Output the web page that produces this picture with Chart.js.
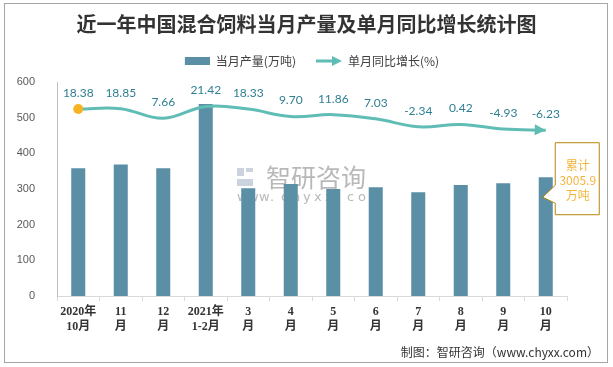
<!DOCTYPE html>
<html>
<head>
<meta charset="utf-8">
<script src="https://cdn.jsdelivr.net/npm/chart.js@4"></script>
<style>
    html, body { margin: 0; padding: 0; background: #fff; }
    #wrap { width: 613px; height: 367px; position: relative; }
</style>
</head>
<body>
<div id="wrap"><canvas id="mixChart" width="613" height="367"></canvas></div>
<script>
// chart data
var monthLabels = [['2020年', '10月'], ['11', '月'], ['12', '月'], ['2021年', '1-2月'], ['3', '月'], ['4', '月'],
    ['5', '月'], ['6', '月'], ['7', '月'], ['8', '月'], ['9', '月'], ['10', '月']];
var outputValues = [358, 369, 358, 538, 302, 314, 300, 305, 291, 311, 316, 333];
var growthValues = [18.38, 18.85, 7.66, 21.42, 18.33, 9.70, 11.86, 7.03, -2.34, 0.42, -4.93, -6.23];
var growthText = ['18.38', '18.85', '7.66', '21.42', '18.33', '9.70', '11.86', '7.03', '-2.34', '0.42', '-4.93', '-6.23'];
var totalNote = ['累计', '3005.9', '万吨'];

var barColor = '#5b8fa5';
var lineColor = '#5fbdb5';

// legend symbols, drawn right-aligned in a 36px wide box
function makeSwatch() {
    var c = document.createElement('canvas');
    c.width = 36; c.height = 8;
    var g = c.getContext('2d');
    g.fillStyle = barColor;
    g.fillRect(11, 0, 25, 8);
    return c;
}

function makeArrow() {
    var c = document.createElement('canvas');
    c.width = 36; c.height = 12;
    var g = c.getContext('2d');
    g.strokeStyle = lineColor;
    g.lineWidth = 3;
    g.beginPath(); g.moveTo(10, 6); g.lineTo(27, 6); g.stroke();
    g.fillStyle = lineColor;
    g.beginPath(); g.moveTo(36, 6); g.lineTo(26, 1); g.lineTo(26, 11); g.closePath(); g.fill();
    return c;
}

var swatchImg = makeSwatch();
var arrowImg = makeArrow();

var extrasPlugin = {
    id: 'extras',
    beforeDatasetsDraw: function (chart) {
        var ctx = chart.ctx;
        ctx.save();
        // watermark
        ctx.fillStyle = 'rgba(190,200,215,0.8)';
        ctx.fillRect(237, 168, 7, 8);
        ctx.fillRect(246, 168, 7, 4);
        ctx.fillRect(237, 179, 16, 7);
        ctx.fillStyle = 'rgba(160,160,160,0.75)';
        ctx.font = '25px "Noto Sans CJK SC"';
        ctx.textBaseline = 'middle';
        ctx.textAlign = 'left';
        ctx.fillText('智研咨询', 266, 177);
        ctx.font = '13px "DejaVu Sans"';
        var url = 'www.chyxx.com';
        for (var i = 0; i < url.length; i++) {
            ctx.fillText(url[i], 237 + i * 11, 198);
        }
        ctx.restore();
    },
    afterDatasetsDraw: function (chart) {
        var ctx = chart.ctx;
        var lineMeta = chart.getDatasetMeta(1);
        var barMeta = chart.getDatasetMeta(0);
        var pts = lineMeta.data;
        ctx.save();

        // arrow head at the end of the line
        var last = pts[pts.length - 1];
        var prev = pts[pts.length - 2];
        var cp = last.cp1x !== undefined ? { x: last.cp1x, y: last.cp1y } : prev;
        var ang = Math.atan2(last.y - cp.y, last.x - cp.x);
        ctx.fillStyle = lineColor;
        ctx.translate(last.x, last.y);
        ctx.rotate(ang);
        ctx.beginPath();
        ctx.moveTo(0, 0);
        ctx.lineTo(-11, -5.5);
        ctx.lineTo(-11, 5.5);
        ctx.closePath();
        ctx.fill();
        ctx.setTransform(1, 0, 0, 1, 0, 0);

        // value labels
        ctx.font = '12px Lato';
        ctx.fillStyle = '#2f7f92';
        ctx.textAlign = 'center';
        ctx.textBaseline = 'middle';
        for (var i = 0; i < pts.length; i++) {
            ctx.fillText(growthText[i], pts[i].x, pts[i].y - 16);
        }

        // callout next to the last bar
        var bar = barMeta.data[barMeta.data.length - 1];
        var left = bar.x + 9, top = bar.y - 35, w = 44, h = 72;
        ctx.fillStyle = '#fff';
        ctx.strokeStyle = '#b8860b';
        ctx.lineWidth = 1;
        ctx.beginPath();
        ctx.moveTo(left + 0.5, top + 0.5);
        ctx.lineTo(left + w + 0.5, top + 0.5);
        ctx.lineTo(left + w + 0.5, top + h + 0.5);
        ctx.lineTo(left + 0.5, top + h + 0.5);
        ctx.lineTo(left + 0.5, bar.y + 26);
        ctx.lineTo(bar.x - 3, bar.y + 20);
        ctx.lineTo(left + 0.5, bar.y + 8);
        ctx.closePath();
        ctx.fill();
        ctx.stroke();
        ctx.fillStyle = '#f3b43c';
        ctx.font = '12px "Noto Sans CJK SC"';
        for (var j = 0; j < totalNote.length; j++) {
            ctx.fillText(totalNote[j], left + w / 2 + 1, top + 23 + j * 15);
        }
        ctx.restore();
    },
    afterDraw: function (chart) {
        var ctx = chart.ctx;
        ctx.save();
        ctx.strokeStyle = '#a6a6a6';
        ctx.lineWidth = 1;
        ctx.strokeRect(4.5, 3.5, 603, 359);
        ctx.fillStyle = '#333';
        ctx.font = '12px "Noto Sans CJK SC"';
        ctx.textAlign = 'right';
        ctx.textBaseline = 'middle';
        ctx.fillText('制图：智研咨询（www.chyxx.com）', 599, 352);
        ctx.restore();
    }
};

var ctx = document.getElementById('mixChart').getContext('2d');

new Chart(ctx, {
    type: 'bar',
    data: {
        labels: monthLabels,
        datasets: [
            {
                label: '当月产量(万吨)',
                data: outputValues,
                backgroundColor: barColor,
                barPercentage: 0.33,
                categoryPercentage: 1,
                yAxisID: 'y',
                order: 2
            },
            {
                type: 'line',
                label: '单月同比增长(%)',
                data: growthValues,
                borderColor: lineColor,
                borderWidth: 3,
                tension: 0.4,
                pointRadius: function (c) { return c.dataIndex === 0 ? 5 : 0; },
                pointBackgroundColor: '#f5b324',
                pointBorderWidth: 0,
                yAxisID: 'y2',
                order: 1
            }
        ]
    },
    options: {
        responsive: false,
        animation: false,
        layout: {
            padding: { left: 0, right: 0, top: 0, bottom: 0 }
        },
        plugins: {
            title: {
                display: true,
                text: '近一年中国混合饲料当月产量及单月同比增长统计图',
                color: '#333',
                font: { family: '"Noto Sans CJK SC"', size: 20, weight: 'bold' },
                padding: { top: 12, bottom: 9 }
            },
            legend: {
                display: true,
                position: 'top',
                labels: {
                    usePointStyle: true,
                    pointStyleWidth: 36,
                    boxHeight: 12,
                    padding: 10,
                    color: '#404040',
                    font: { family: '"Noto Sans CJK SC"', size: 12 },
                    generateLabels: function (chart) {
                        return [
                            { text: '当月产量(万吨)', pointStyle: swatchImg, datasetIndex: 0, fillStyle: barColor, strokeStyle: barColor, lineWidth: 0, fontColor: '#404040' },
                            { text: '单月同比增长(%)', pointStyle: arrowImg, datasetIndex: 1, fillStyle: lineColor, strokeStyle: lineColor, lineWidth: 0, fontColor: '#404040' }
                        ];
                    }
                }
            },
            tooltip: { enabled: false }
        },
        scales: {
            x: {
                offset: true,
                grid: {
                    display: true,
                    drawOnChartArea: false,
                    offset: true,
                    tickLength: 5,
                    color: '#d9d9d9'
                },
                border: { color: '#d9d9d9' },
                ticks: {
                    color: '#333',
                    padding: 3,
                    maxRotation: 0,
                    autoSkip: false,
                    font: { family: '"Liberation Serif", "Noto Sans CJK SC"', size: 12, weight: 'bold', lineHeight: 1.25 }
                },
                afterFit: function (s) { s.height = 71; }
            },
            // empty strip between legend and plot
            xTop: {
                type: 'category',
                position: 'top',
                grid: { display: false },
                border: { display: false },
                ticks: { display: false },
                afterFit: function (s) { s.height = 5; }
            },
            y: {
                min: 0,
                max: 600,
                grid: { display: false },
                border: { display: true, color: '#bfbfbf' },
                ticks: {
                    stepSize: 100,
                    padding: 14,
                    color: '#595959',
                    font: { family: '"Liberation Sans"', size: 11 }
                },
                afterFit: function (s) { s.width = 57; }
            },
            y2: {
                position: 'right',
                min: -200,
                max: 50,
                grid: { display: false },
                border: { display: false },
                ticks: { display: false },
                afterFit: function (s) { s.width = 46; }
            }
        }
    },
    plugins: [extrasPlugin]
});
</script>
</body>
</html>
